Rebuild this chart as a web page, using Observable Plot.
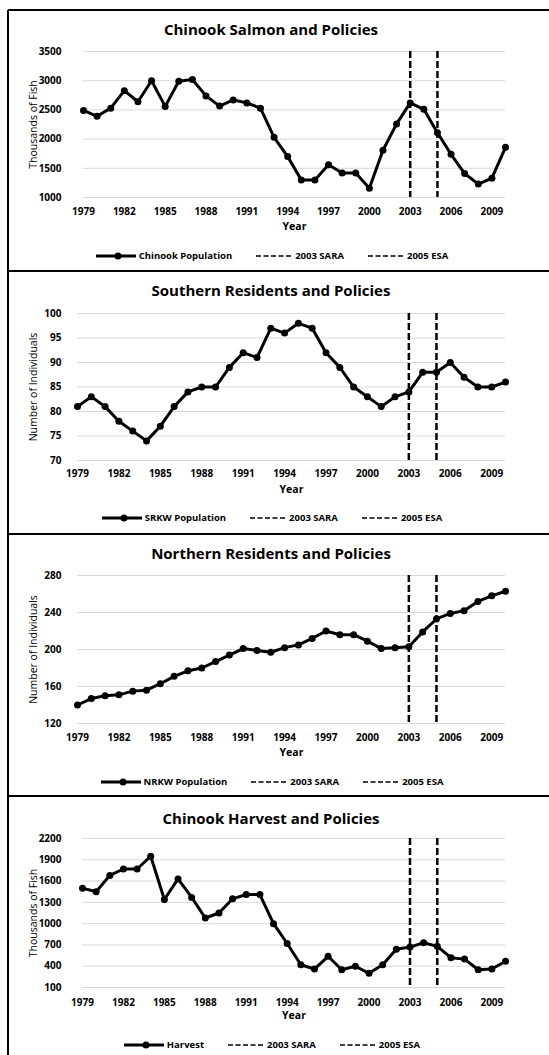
<!DOCTYPE html>
<html>
<head>
<meta charset="utf-8">
<script src="https://cdn.jsdelivr.net/npm/d3@7"></script>
<script src="https://cdn.jsdelivr.net/npm/@observablehq/plot@0.6"></script>
<style>
  html, body { margin: 0; padding: 0; background: #fff; }
  #root { position: relative; width: 549px; height: 1055px; overflow: hidden; font-family: "Open Sans", sans-serif; color: #000; }
  .hline { position: absolute; left: 8px; right: 0; height: 2px; background: #000; }
  .vline { position: absolute; left: 7px; top: 10px; bottom: 0; width: 2px; background: #000; }
  .title { position: absolute; left: 0; width: 542px; text-align: center; font-weight: bold; font-size: 15px; line-height: 20px; }
  .legend { position: absolute; left: 0; width: 544px; display: flex; justify-content: center; align-items: center; font-weight: bold; font-size: 9.5px; line-height: 14px; height: 14px; }
  .legend .item { display: flex; align-items: center; margin: 0 12px; }
  .legend svg { display: block; margin-right: 3px; }
  .plot { position: absolute; left: 0; }
</style>
</head>
<body>
<div id="root"></div>
<script>
const years = [1979,1980,1981,1982,1983,1984,1985,1986,1987,1988,1989,1990,1991,1992,1993,1994,1995,1996,1997,1998,1999,2000,2001,2002,2003,2004,2005,2006,2007,2008,2009,2010];
const xTicks = [1979,1982,1985,1988,1991,1994,1997,2000,2003,2006,2009];
const policyYears = [2003, 2005];
const policyLabels = ["2003 SARA", "2005 ESA"];

const chinookPopulation = [2490,2390,2530,2830,2640,3000,2560,2990,3020,2740,2565,2670,2620,2530,2030,1700,1300,1300,1560,1420,1420,1160,1810,2260,2620,2510,2110,1740,1410,1230,1330,1860];
const srkwPopulation = [81,83,81,78,76,74,77,81,84,85,85,89,92,91,97,96,98,97,92,89,85,83,81,83,84,88,88,90,87,85,85,86];
const nrkwPopulation = [140,147,150,151,155,156,163,171,177,180,187,194,201,199,197,202,205,212,220,216,216,209,201,202,203,219,233,239,242,252,258,263];
const harvest = [1500,1450,1680,1770,1770,1950,1340,1630,1370,1080,1150,1350,1410,1410,1000,720,420,360,540,350,400,300,420,640,670,730,680,520,500,350,360,470];

const titles = ["Chinook Salmon and Policies", "Southern Residents and Policies", "Northern Residents and Policies", "Chinook Harvest and Policies"];
const yLabels = ["Thousands of Fish", "Number of Individuals", "Number of Individuals", "Thousands of Fish"];
const seriesNames = ["Chinook Population", "SRKW Population", "NRKW Population", "Harvest"];
const seriesValues = [chinookPopulation, srkwPopulation, nrkwPopulation, harvest];
const yDomains = [[1000, 3500], [70, 100], [120, 280], [100, 2200]];
const yTickLists = [
  [1000,1500,2000,2500,3000,3500],
  [70,75,80,85,90,95,100],
  [120,160,200,240,280],
  [100,400,700,1000,1300,1600,1900,2200]
];

// layout (pixel positions on the page)
const layout = [
  {plotTop: 51,  plotBottom: 197, x0: 83, titleY: 29,  tickY: 211, yearY: 226, legendY: 256},
  {plotTop: 313, plotBottom: 460, x0: 77, titleY: 290, tickY: 473, yearY: 489, legendY: 518},
  {plotTop: 575, plotBottom: 723, x0: 77, titleY: 553, tickY: 737, yearY: 752, legendY: 782},
  {plotTop: 838, plotBottom: 987, x0: 82, titleY: 818, tickY: 1002, yearY: 1015, legendY: 1045}
];
const dividers = [10, 271, 534, 796];
const xRight = 505;
const yTickRight = 61;
const yLabelX = 33;

const root = document.getElementById("root");
const vl = document.createElement("div"); vl.className = "vline"; root.appendChild(vl);
for (const y of dividers) {
  const d = document.createElement("div"); d.className = "hline"; d.style.top = (y - 1) + "px"; root.appendChild(d);
}

function lineSwatch() {
  return `<svg width="40" height="10"><line x1="0" x2="40" y1="5" y2="5" stroke="#000" stroke-width="3"/><circle cx="22" cy="5" r="3.5" fill="#000"/></svg>`;
}
function dashSwatch() {
  return `<svg width="36" height="10"><line x1="0" x2="36" y1="5" y2="5" stroke="#000" stroke-width="1.5" stroke-dasharray="5,2.5"/></svg>`;
}

for (let i = 0; i < 4; i++) {
  const L = layout[i];
  const data = years.map((year, j) => ({year, value: seriesValues[i][j]}));

  const title = document.createElement("div");
  title.className = "title";
  title.style.top = (L.titleY - 10) + "px";
  title.textContent = titles[i];
  root.appendChild(title);

  const svgTop = L.plotTop - 10;
  const svgHeight = L.yearY + 10 - svgTop;
  const chart = Plot.plot({
    width: 549,
    height: svgHeight,
    marginTop: 10,
    marginBottom: L.yearY + 10 - L.plotBottom,
    marginLeft: L.x0,
    marginRight: 549 - xRight,
    style: {fontFamily: "Open Sans, sans-serif", fontSize: "10px", fontWeight: "bold", color: "#000", background: "transparent", overflow: "visible"},
    x: {domain: [1979, 2010]},
    y: {domain: yDomains[i]},
    marks: [
      Plot.gridY(yTickLists[i], {stroke: "#d9d9d9", strokeOpacity: 1, strokeWidth: 1}),
      Plot.axisY(yTickLists[i], {tickSize: 0, tickPadding: L.x0 - yTickRight, label: null, tickFormat: d => String(d), fill: "#000"}),
      Plot.axisX(xTicks, {tickSize: 0, tickPadding: L.tickY - L.plotBottom - 3.6, label: null, tickFormat: d => String(d), fill: "#000"}),
      Plot.ruleX(policyYears, {stroke: "#000", strokeWidth: 2.5, strokeDasharray: "7,3"}),
      Plot.line(data, {x: "year", y: "value", stroke: "#000", strokeWidth: 3}),
      Plot.dot(data, {x: "year", y: "value", r: 3.5, fill: "#000"}),
      Plot.text([yLabels[i]], {text: d => d, frameAnchor: "left", textAnchor: "middle", lineAnchor: "middle", rotate: -90, dx: yLabelX - L.x0, fontWeight: "normal", fontSize: 10.5, fill: "#000"}),
      Plot.text(["Year"], {text: d => d, frameAnchor: "bottom", textAnchor: "middle", lineAnchor: "middle", dy: L.yearY - L.plotBottom, fontSize: 10.5, fill: "#000"})
    ]
  });
  chart.classList.add("plot");
  chart.style.top = svgTop + "px";
  root.appendChild(chart);

  const legend = document.createElement("div");
  legend.className = "legend";
  legend.style.top = (L.legendY - 7) + "px";
  legend.innerHTML =
    `<div class="item">${lineSwatch()}<span>${seriesNames[i]}</span></div>` +
    policyLabels.map(l => `<div class="item">${dashSwatch()}<span>${l}</span></div>`).join("");
  root.appendChild(legend);
}
</script>
</body>
</html>
